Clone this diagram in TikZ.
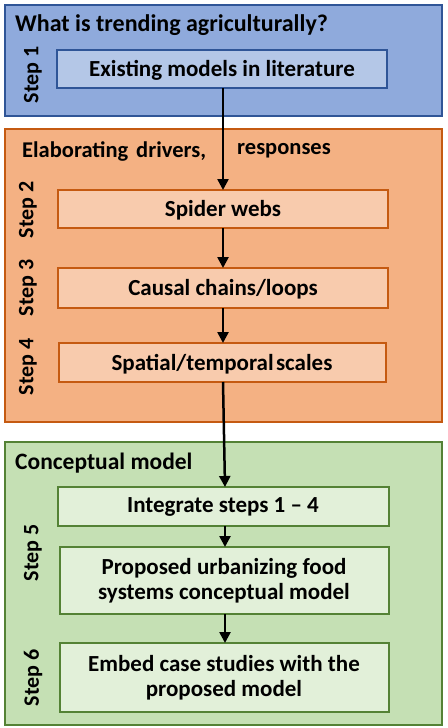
\documentclass[tikz,border=0pt]{standalone}
\usepackage{fontspec}
\setmainfont{Carlito}
\usetikzlibrary{arrows.meta}
\definecolor{bOut}{HTML}{8FAADC}
\definecolor{bIn}{HTML}{B4C7E7}
\definecolor{bLine}{HTML}{2F5597}
\definecolor{oOut}{HTML}{F4B183}
\definecolor{oIn}{HTML}{F8CBAD}
\definecolor{oLine}{HTML}{C55A11}
\definecolor{gOut}{HTML}{C5E0B4}
\definecolor{gIn}{HTML}{E2F0D9}
\definecolor{gLine}{HTML}{548235}
\tikzset{
  panel/.style={line width=2.5pt},
  inbox/.style={line width=2.2pt},
  txt/.style={font=\fontsize{23}{25}\selectfont\bfseries, align=center, inner sep=0pt},
  ttl/.style={font=\fontsize{22.5}{25}\selectfont\bfseries, anchor=west, inner sep=0pt},
  steplbl/.style={font=\fontsize{22}{25}\selectfont\bfseries, rotate=90, inner sep=0pt},
  flow/.style={line width=2.5pt, -{Triangle[length=11pt,width=11pt]}}
}
\begin{document}
\begin{tikzpicture}[x=1pt,y=-1pt]
\useasboundingbox (0,0) rectangle (447,728);
% blue panel
\draw[panel, draw=bLine, fill=bOut] (5,5) rectangle (442,116);
\node[ttl, font=\fontsize{24}{26}\selectfont\bfseries] (t1) at (15,25) {What is trending agriculturally?};
\node[steplbl] (s1) at (33,75) {Step 1};
\draw[inbox, draw=bLine, fill=bIn] (57,50) rectangle (387,88);
\node[txt] (n1) at (222,70) {Existing models in literature};
\coordinate (n1b) at (223,88);
% orange panel
\draw[panel, draw=oLine, fill=oOut] (5,129) rectangle (442,422);
\node[ttl] (t2a) at (22,151) {Elaborating\hspace{0.35em}drivers,};
\node[ttl] (t2b) at (237,151) {responses};
\node[steplbl] (s2) at (28,210) {Step 2};
\node[steplbl] (s3) at (28,288) {Step 3};
\node[steplbl] (s4) at (28,367) {Step 4};
\draw[inbox, draw=oLine, fill=oIn] (58,190) rectangle (388,228);
\node[txt] (n2) at (223,210) {Spider webs};
\coordinate (n2t) at (223,190); \coordinate (n2b) at (223,228);
\draw[inbox, draw=oLine, fill=oIn] (58,268) rectangle (388,308);
\node[txt] (n3) at (223,289) {Causal chains/loops};
\coordinate (n3t) at (223,268); \coordinate (n3b) at (223,308);
\draw[inbox, draw=oLine, fill=oIn] (59,343) rectangle (386,382);
\node[txt] (n4) at (222,364) {Spatial/temporal\hspace{0.1em}scales};
\coordinate (n4t) at (223,343); \coordinate (n4b) at (223,382);
% green panel
\draw[panel, draw=gLine, fill=gOut] (5,442) rectangle (442,725);
\node[ttl, font=\fontsize{23.5}{26}\selectfont\bfseries] (t3) at (15,463) {Conceptual model};
\node[steplbl] (s5) at (33,553) {Step 5};
\node[steplbl] (s6) at (33,678) {Step 6};
\draw[inbox, draw=gLine, fill=gIn] (58,487) rectangle (389,526);
\node[txt] (n5) at (223,507) {Integrate steps 1 -- 4};
\coordinate (n5t) at (225,487); \coordinate (n5b) at (225,526);
\draw[inbox, draw=gLine, fill=gIn] (60,547) rectangle (389,614);
\node[txt] (n6) at (224,581) {Proposed urbanizing food\\systems conceptual model};
\coordinate (n6t) at (225,547); \coordinate (n6b) at (225,614);
\draw[inbox, draw=gLine, fill=gIn] (60,643) rectangle (389,712);
\node[txt] (n7) at (224,678) {Embed case studies with the\\proposed model};
\coordinate (n7t) at (225,643);
% arrows
\draw[flow] (n1b) -- (n2t);
\draw[flow] (n2b) -- (n3t);
\draw[flow] (n3b) -- (n4t);
\draw[flow] (n4b) -- (n5t);
\draw[flow] (n5b) -- (n6t);
\draw[flow] (n6b) -- (n7t);
\end{tikzpicture}
\end{document}
